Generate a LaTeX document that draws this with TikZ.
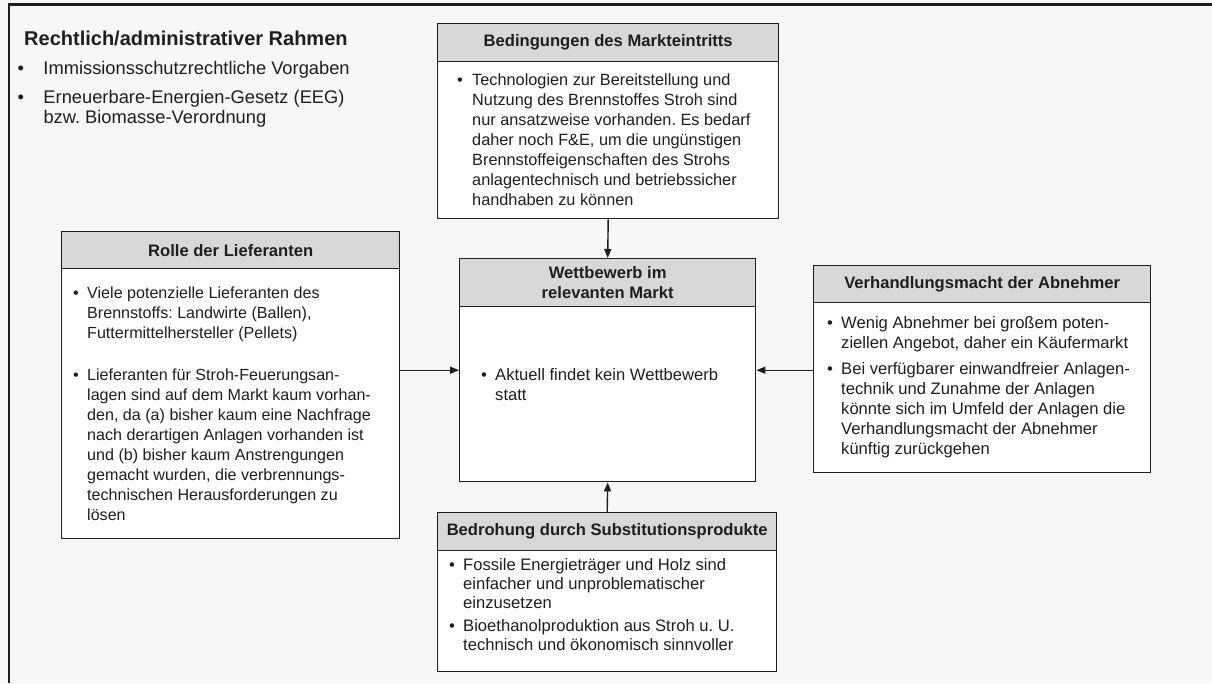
\documentclass[tikz,border=0pt]{standalone}
\usepackage{fontspec}
\setmainfont{Liberation Sans}
\usetikzlibrary{arrows.meta}

\definecolor{paper}{HTML}{F7F7F7}
\definecolor{headgray}{HTML}{D8D8D8}
\definecolor{ink}{HTML}{1E1E1E}

\newcommand\bodyfont{\fontsize{16.6}{20}\selectfont}
\newcommand\blt{\textbullet}

\begin{document}
\frenchspacing
\begin{tikzpicture}[x=1pt,y=-1pt,
  panel/.style={draw=ink, line width=1.4pt, fill=white, inner sep=0pt, anchor=north west},
  headbar/.style={draw=ink, line width=1.4pt, fill=headgray, inner sep=0pt,
    anchor=north west, align=center, text=ink,
    font=\fontsize{16.6}{20}\selectfont\bfseries},
  bodytext/.style={anchor=base west, inner sep=0pt, text=ink, font=\bodyfont},
  link/.style={draw=ink, line width=1.4pt, -{Triangle[length=9pt,width=7pt]}}]

% page and frame
\fill[paper] (0,0) rectangle (1212,683);
\useasboundingbox (0,0) rectangle (1212,683);
\draw[ink, line width=2.2pt] (1212,4.5) -- (9,4.5) -- (9,683);

% legal / administrative framework
\node[anchor=base west, inner sep=0pt, text=ink, font=\fontsize{20}{24}\selectfont\bfseries]
  (frametitle) at (24,45) {Rechtlich/administrativer Rahmen};
\node[anchor=base west, inner sep=0pt, text=ink, font=\fontsize{18.3}{20}\selectfont]
  (framelist) at (17.5,74) {\begin{tabular}[t]{@{}p{25.8pt}@{}l@{}}
\blt & Immissionsschutzrechtliche Vorgaben\\[9pt]
\blt & Erneuerbare-Energien-Gesetz (EEG)\\
     & bzw. Biomasse-Verordnung
\end{tabular}};

% market entry
\node[panel, minimum width=341pt, minimum height=195pt] (entry) at (437,23) {};
\node[headbar, minimum width=341pt, minimum height=38pt] (entryhead) at (437,23)
  {Bedingungen des Markteintritts};
\node[bodytext, font=\fontsize{16.3}{20}\selectfont] (entrytext) at (457,85)
  {\begin{tabular}[t]{@{}p{15pt}@{}l@{}}
\blt & Technologien zur Bereitstellung und\\
     & Nutzung des Brennstoffes Stroh sind\\
     & nur ansatzweise vorhanden. Es bedarf\\
     & daher noch F\&E, um die ungünstigen\\
     & Brennstoffeigenschaften des Strohs\\
     & anlagentechnisch und betriebssicher\\
     & handhaben zu können
\end{tabular}};

% competition in the market
\node[panel, minimum width=296pt, minimum height=223pt] (comp) at (459,258) {};
\node[headbar, minimum width=296pt, minimum height=48pt] (comphead) at (459,258)
  {Wettbewerb im\\relevanten Markt};
\node[bodytext] (comptext) at (481,380) {\begin{tabular}[t]{@{}p{14pt}@{}l@{}}
\blt & Aktuell findet kein Wettbewerb\\
     & statt
\end{tabular}};

% suppliers
\node[panel, minimum width=338pt, minimum height=307pt] (supp) at (61,231) {};
\node[headbar, minimum width=338pt, minimum height=37pt] (supphead) at (61,231)
  {Rolle der Lieferanten};
\node[bodytext, font=\fontsize{16.1}{20}\selectfont] (supptext) at (73,298)
  {\begin{tabular}[t]{@{}p{14pt}@{}l@{}}
\blt & Viele potenzielle Lieferanten des\\
     & Brennstoffs: Landwirte (Ballen),\\
     & Futtermittelhersteller (Pellets)\\[22pt]
\blt & Lieferanten für Stroh-Feuerungsan-\\
     & lagen sind auf dem Markt kaum vorhan-\\
     & den, da (a) bisher kaum eine Nachfrage\\
     & nach derartigen Anlagen vorhanden ist\\
     & und (b) bisher kaum Anstrengungen\\
     & gemacht wurden, die verbrennungs-\\
     & technischen Herausforderungen zu\\
     & lösen
\end{tabular}};

% buyers
\node[panel, minimum width=337pt, minimum height=207pt] (buyer) at (813,265) {};
\node[headbar, minimum width=337pt, minimum height=37pt] (buyerhead) at (813,265)
  {Verhandlungsmacht der Abnehmer};
\node[bodytext] (buyertext) at (827,328) {\begin{tabular}[t]{@{}p{14pt}@{}l@{}}
\blt & Wenig Abnehmer bei großem poten-\\
     & ziellen Angebot, daher ein Käufermarkt\\[6pt]
\blt & Bei verfügbarer einwandfreier Anlagen-\\
     & technik und Zunahme der Anlagen\\
     & könnte sich im Umfeld der Anlagen die\\
     & Verhandlungsmacht der Abnehmer\\
     & künftig zurückgehen
\end{tabular}};

% substitutes
\node[panel, minimum width=339pt, minimum height=159pt] (subst) at (437,512) {};
\node[headbar, minimum width=339pt, minimum height=38pt] (substhead) at (437,512)
  {Bedrohung durch Substitutionsprodukte};
\node[bodytext, font=\fontsize{16.6}{19}\selectfont] (substtext) at (449,570)
  {\begin{tabular}[t]{@{}p{14pt}@{}l@{}}
\blt & Fossile Energieträger und Holz sind\\
     & einfacher und unproblematischer\\
     & einzusetzen\\[4.5pt]
\blt & Bioethanolproduktion aus Stroh u. U.\\
     & technisch und ökonomisch sinnvoller
\end{tabular}};

% forces acting on the competition
\draw[link] (entry.south) -- (comp.north);
\draw[link] (supp.east |- comp.west) -- (comp.west);
\draw[link] (buyer.west |- comp.east) -- (comp.east);
\draw[link] (subst.north) -- (comp.south);
\end{tikzpicture}
\end{document}
